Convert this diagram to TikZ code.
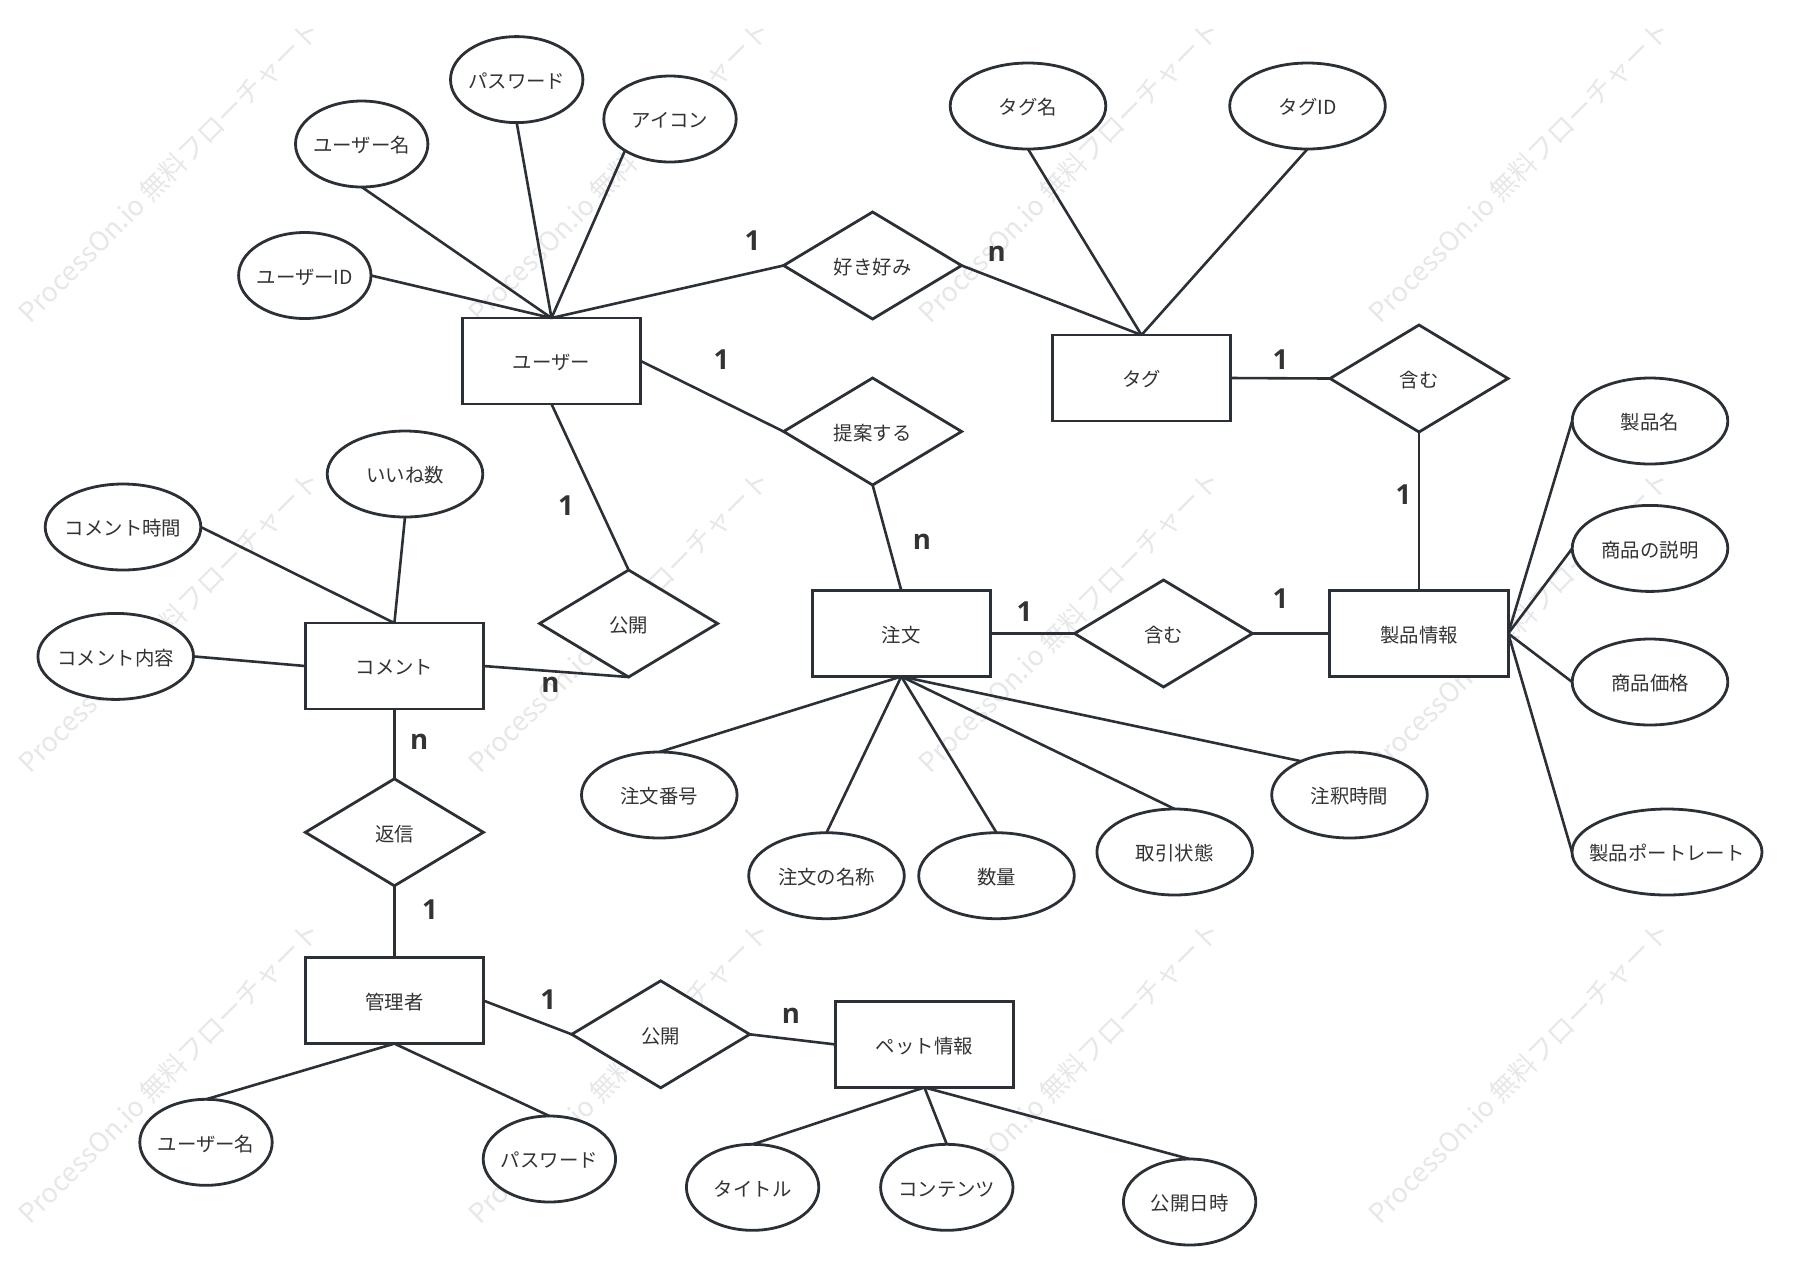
\documentclass[tikz,border=0pt]{standalone}
\usepackage{fontspec}
\setmainfont{Noto Sans CJK JP}
\newfontfamily\cardfont{Open Sans}
\newcommand{\tx}[1]{\makebox[0pt][c]{#1}}
\usetikzlibrary{shapes.geometric}
\definecolor{ink}{HTML}{2B3036}
\definecolor{txt}{HTML}{333333}
\definecolor{wm}{HTML}{E7E7E7}
\tikzset{
  x=0.5pt,y=-0.5pt,
  base/.style={draw=ink,fill=white,line width=1.4pt,inner sep=0pt,outer sep=0pt,text=txt,text height=9.4pt,text depth=0.6pt,font=\fontsize{9.7}{11}\selectfont},
  entity/.style={base,rectangle,minimum width=89.2pt,minimum height=43pt},
  rel/.style={base,diamond,minimum width=89pt,minimum height=53.5pt},
  attr/.style={base,ellipse,minimum width=66.2pt,minimum height=43pt},
  attrw/.style={base,ellipse,minimum width=77.8pt,minimum height=43pt},
  attrx/.style={base,ellipse,minimum width=95pt,minimum height=43pt},
  link/.style={draw=ink,line width=1.3pt},
  card/.style={text=txt,inner sep=0pt,font=\cardfont\bfseries\fontsize{13.8}{15}\selectfont},
  wmark/.style={text=wm,inner sep=0pt,rotate=45,font=\fontsize{13.5}{15}\selectfont}
}
\begin{document}
\begin{tikzpicture}
\useasboundingbox (0,0) rectangle (1799,1282);
% watermark tiles
\foreach \wx/\wi in {169.5/a,619.5/b,1069.5/c,1519.5/d}{
  \foreach \wy/\wj in {171/a,621.5/b,1072/c}{
    \node[wmark] (wm\wi\wj) at (\wx,\wy) {ProcessOn.io 無料フローチャート};
  }
}
% entities
\node[entity] (user) at (551.5,361) {\tx{ユーザー}};
\node[entity] (comment) at (394.4,666) {\tx{コメント}};
\node[entity] (order) at (901.3,633.5) {\tx{注文}};
\node[entity] (product) at (1419,633.5) {\tx{製品情報}};
\node[entity] (tag) at (1141.5,378) {\tx{タグ}};
\node[entity] (admin) at (394.4,1000.6) {\tx{管理者}};
\node[entity] (pet) at (924.4,1044.4) {\tx{ペット情報}};
% relations
\node[rel] (like) at (872.6,265.5) {\tx{好き好み}};
\node[rel] (propose) at (872.6,431.5) {\tx{提案する}};
\node[rel] (pub) at (628.6,623.5) {\tx{公開}};
\node[rel] (incl) at (1163.5,633.5) {\tx{含む}};
\node[rel] (incltag) at (1419,378.5) {\tx{含む}};
\node[rel] (reply) at (394.4,832.3) {\tx{返信}};
\node[rel] (pubpet) at (660.7,1034.3) {\tx{公開}};
% attributes
\node[attr] (pw) at (516.7,79.6) {\tx{パスワード}};
\node[attr] (uname) at (361.7,144) {\tx{ユーザー名}};
\node[attr] (icon) at (670,119) {\tx{アイコン}};
\node[attr] (uid) at (304.8,275.5) {\tx{ユーザーID}};
\node[attrw] (likes) at (405,474) {\tx{いいね数}};
\node[attrw] (ctime) at (123,527) {\tx{コメント時間}};
\node[attrw] (cbody) at (115.7,656.4) {\tx{コメント内容}};
\node[attrw] (tname) at (1028,106) {\tx{タグ名}};
\node[attrw] (tid) at (1307.5,106) {\tx{タグID}};
\node[attrw] (pname) at (1650,421) {\tx{製品名}};
\node[attrw] (pdesc) at (1650,548.4) {\tx{商品の説明}};
\node[attrw] (pprice) at (1650,682) {\tx{商品価格}};
\node[attrx] (pphoto) at (1667,852) {\tx{製品ポートレート}};
\node[attrw] (ono) at (659.3,795) {\tx{注文番号}};
\node[attrw] (oname) at (826.5,875.7) {\tx{注文の名称}};
\node[attrw] (oqty) at (996.5,875.7) {\tx{数量}};
\node[attrw] (ostate) at (1174.7,852) {\tx{取引状態}};
\node[attrw] (otime) at (1349.5,795) {\tx{注釈時間}};
\node[attr] (auname) at (206,1142.3) {\tx{ユーザー名}};
\node[attr] (apw) at (549.4,1159) {\tx{パスワード}};
\node[attr] (title) at (752.6,1187.3) {\tx{タイトル}};
\node[attr] (content) at (946.8,1187.3) {\tx{コンテンツ}};
\node[attr] (pdate) at (1189.6,1202) {\tx{公開日時}};
% connectors
\draw[link] (uid.east) -- (user.north);
\draw[link] (uname.south) -- (user.north);
\draw[link] (pw.south) -- (user.north);
\draw[link] (icon.215) -- (user.north);
\draw[link] (like.west) -- (user.north);
\draw[link] (user.east) -- (propose.west);
\draw[link] (user.south) -- (pub.north);
\draw[link] (propose.south) -- (order.north);
\draw[link] (like.east) -- (tag.north);
\draw[link] (tname.south) -- (tag.north);
\draw[link] (tid.south) -- (tag.north);
\draw[link] (tag.east) -- (incltag.west);
\draw[link] (incltag.south) -- (product.north);
\draw[link] (product.east) -- (pname.west);
\draw[link] (product.east) -- (pdesc.west);
\draw[link] (product.east) -- (pprice.west);
\draw[link] (product.east) -- (pphoto.west);
\draw[link] (order.east) -- (incl.west);
\draw[link] (incl.east) -- (product.west);
\draw[link] (order.south) -- (ono.north);
\draw[link] (order.south) -- (oname.north);
\draw[link] (order.south) -- (oqty.north);
\draw[link] (order.south) -- (ostate.north);
\draw[link] (order.south) -- (otime.145);
\draw[link] (likes.south) -- (comment.north);
\draw[link] (ctime.east) -- (comment.north);
\draw[link] (cbody.east) -- (comment.west);
\draw[link] (comment.east) -- (pub.south);
\draw[link] (comment.south) -- (reply.north);
\draw[link] (reply.south) -- (admin.north);
\draw[link] (admin.east) -- (pubpet.west);
\draw[link] (pubpet.east) -- (pet.west);
\draw[link] (admin.south) -- (auname.north);
\draw[link] (admin.south) -- (apw.north);
\draw[link] (pet.south) -- (title.north);
\draw[link] (pet.south) -- (content.north);
\draw[link] (pet.south) -- (pdate.north);
% cardinalities
\node[card] (c1) at (752.5,240.5) {1};
\node[card] (c2) at (721.5,359.5) {1};
\node[card] (c3) at (566,505.5) {1};
\node[card] (c4) at (996.8,253.8) {n};
\node[card] (c5) at (922,541.8) {n};
\node[card] (c6) at (1280.6,359.5) {1};
\node[card] (c7) at (1403.4,494.5) {1};
\node[card] (c8) at (1280.6,598.5) {1};
\node[card] (c9) at (1024.6,611.5) {1};
\node[card] (c10) at (550.5,684.5) {n};
\node[card] (c11) at (419.3,741.8) {n};
\node[card] (c12) at (430,909.5) {1};
\node[card] (c13) at (548.2,1000) {1};
\node[card] (c14) at (791,1015.5) {n};
\end{tikzpicture}
\end{document}
